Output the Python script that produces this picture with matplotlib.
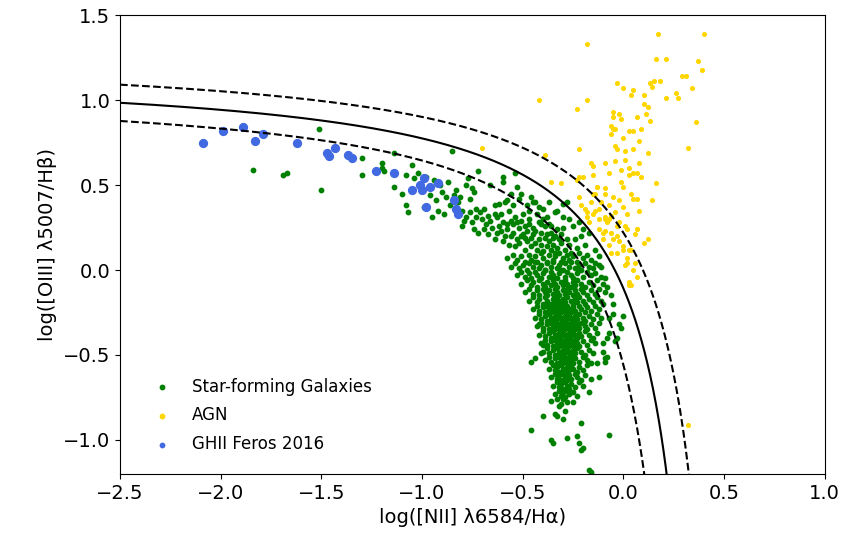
import numpy as np
import matplotlib
matplotlib.use("Agg")
import matplotlib.pyplot as plt

# Kewley et al. (2001) maximum starburst line, with +/-0.1 dex envelope
kew_a, kew_b, kew_c = 0.61, 0.47, 1.19
kew_err = 0.1

# GHII Feros 2016
ghii = [(-2.09, 0.75), (-1.99, 0.82), (-1.89, 0.84), (-1.83, 0.76), (-1.79, 0.80),
        (-1.62, 0.75), (-1.47, 0.69), (-1.46, 0.67), (-1.43, 0.72), (-1.37, 0.68),
        (-1.35, 0.66), (-1.23, 0.58), (-1.14, 0.57), (-1.05, 0.47), (-1.01, 0.50),
        (-1.00, 0.47), (-0.99, 0.54), (-0.96, 0.49), (-0.92, 0.51), (-0.98, 0.37),
        (-0.84, 0.41), (-0.83, 0.36), (-0.82, 0.33)]

# AGN
agn = [(0.17, 1.39), (0.40, 1.39), (-0.18, 1.33), (0.16, 1.24), (0.21, 1.24), (0.37, 1.23),
       (0.39, 1.18), (-0.03, 1.10), (0.00, 1.07), (0.13, 1.10), (0.14, 1.08), (0.15, 1.11),
       (0.18, 1.11), (0.29, 1.14), (0.31, 1.14), (0.34, 1.07), (0.26, 1.04), (0.27, 1.01),
       (0.21, 1.01), (-0.42, 1.00), (-0.18, 1.00), (-0.23, 0.95), (0.04, 1.03), (0.05, 1.06),
       (0.10, 1.03), (0.10, 0.98), (0.12, 0.96), (-0.05, 0.93), (-0.02, 0.92), (-0.05, 0.90),
       (-0.01, 0.89), (0.07, 0.90), (0.11, 0.92), (0.13, 0.88), (0.36, 0.87), (-0.06, 0.85),
       (-0.05, 0.83), (-0.04, 0.83), (-0.06, 0.80), (0.00, 0.78), (0.03, 0.82), (0.05, 0.82),
       (0.09, 0.83), (0.32, 0.72), (-0.22, 0.71), (-0.04, 0.73), (-0.03, 0.71), (0.05, 0.71),
       (0.12, 0.69), (-0.39, 0.68), (-0.70, 0.72), (-0.16, 0.63), (-0.15, 0.61), (-0.09, 0.63),
       (-0.04, 0.64), (0.01, 0.65), (-0.01, 0.59), (0.03, 0.60), (0.03, 0.56), (0.05, 0.57),
       (0.08, 0.63), (0.07, 0.57), (0.09, 0.55), (-0.15, 0.56), (-0.20, 0.55), (-0.36, 0.52),
       (-0.31, 0.51), (-0.23, 0.53), (0.16, 0.51), (-0.13, 0.49), (-0.14, 0.45), (0.00, 0.49),
       (-0.09, 0.48), (-0.09, 0.45), (-0.05, 0.43), (-0.02, 0.41), (0.00, 0.37), (0.04, 0.45),
       (0.05, 0.42), (0.07, 0.42), (0.14, 0.41), (-0.22, 0.43), (-0.21, 0.38), (-0.19, 0.36),
       (-0.18, 0.34), (-0.15, 0.33), (-0.14, 0.35), (-0.12, 0.36), (-0.18, 0.31), (-0.17, 0.28),
       (-0.12, 0.30), (-0.12, 0.24), (-0.09, 0.31), (-0.08, 0.28), (-0.07, 0.30), (-0.10, 0.22),
       (-0.09, 0.23), (-0.06, 0.22), (-0.10, 0.18), (-0.07, 0.15), (-0.05, 0.18), (-0.03, 0.20),
       (-0.02, 0.28), (0.01, 0.26), (0.02, 0.24), (0.07, 0.24), (0.00, 0.14), (-0.02, 0.17),
       (-0.06, 0.10), (0.00, 0.12), (0.02, 0.07), (0.10, 0.16), (0.04, 0.12), (0.06, 0.04),
       (0.07, -0.04), (0.01, 0.03), (-0.03, 0.10), (0.02, 0.04), (0.05, 0.00), (0.04, -0.09),
       (0.03, -0.07), (0.03, -0.09), (0.07, 0.24), (0.08, 0.35), (0.12, 0.18), (0.06, 0.21),
       (0.03, 0.12), (-0.03, 0.26), (-0.06, 0.32), (-0.09, 0.30), (-0.15, 0.45), (-0.13, 0.49),
       (-0.22, 0.55), (-0.11, 0.40), (-0.07, 0.38), (-0.04, 0.34), (0.02, 0.33), (-0.16, 0.40),
       (-0.01, 0.52), (-0.07, 0.57), (0.01, 0.70), (0.08, 0.76), (0.32, -0.91)]

# Star-forming galaxies
sf = [
    # sparse upper branch
    (-1.84, 0.59), (-1.69, 0.56), (-1.67, 0.57), (-1.51, 0.83), (-1.50, 0.47), (-1.30, 0.66),
    (-1.30, 0.56), (-1.20, 0.63), (-1.20, 0.60), (-1.19, 0.58), (-1.14, 0.69), (-1.14, 0.49),
    (-1.08, 0.56), (-1.05, 0.62), (-1.04, 0.54), (-0.85, 0.70), (-1.08, 0.38), (-1.07, 0.34),
    (-0.72, 0.58), (-1.02, 0.57), (-0.98, 0.55), (-0.96, 0.44), (-0.94, 0.53), (-0.93, 0.41),
    (-0.91, 0.50), (-0.90, 0.46), (-0.88, 0.43), (-0.87, 0.52), (-0.86, 0.38), (-0.84, 0.44),
    (-0.83, 0.47), (-0.82, 0.40), (-0.81, 0.43), (-0.80, 0.35), (-0.78, 0.50), (-0.77, 0.54),
    (-0.76, 0.42), (-0.75, 0.48), (-0.74, 0.46), (-0.73, 0.36), (-1.10, 0.45), (-0.99, 0.37),
    (-0.95, 0.31), (-0.92, 0.35), (-0.89, 0.33), (-0.66, 0.50), (-0.60, 0.55), (-0.60, 0.52),
    (-0.54, 0.57), (-0.53, 0.49), (-0.51, 0.45), (-0.56, 0.45), (-0.59, 0.40), (-0.64, 0.38),
    (-0.62, 0.39), (-0.58, 0.41), (-0.45, 0.40), (-0.42, 0.37), (-0.34, 0.34), (-0.30, 0.39),
    # upper band
    (-0.80, 0.26), (-0.78, 0.31), (-0.76, 0.34), (-0.74, 0.24), (-0.72, 0.22), (-0.71, 0.34),
    (-0.70, 0.30), (-0.69, 0.36), (-0.68, 0.27), (-0.67, 0.32), (-0.66, 0.29), (-0.65, 0.25),
    (-0.64, 0.33), (-0.63, 0.31), (-0.62, 0.26), (-0.61, 0.23), (-0.60, 0.28), (-0.59, 0.20),
    (-0.58, 0.27), (-0.57, 0.35), (-0.56, 0.29), (-0.55, 0.22), (-0.55, 0.27), (-0.54, 0.31),
    (-0.53, 0.18), (-0.52, 0.25), (-0.51, 0.29), (-0.50, 0.33), (-0.50, 0.21), (-0.49, 0.26),
    (-0.48, 0.23), (-0.47, 0.35), (-0.47, 0.30), (-0.46, 0.19), (-0.45, 0.25), (-0.44, 0.40),
    (-0.43, 0.33), (-0.42, 0.28), (-0.41, 0.22), (-0.40, 0.30), (-0.39, 0.26), (-0.38, 0.31),
    (-0.37, 0.27), (-0.36, 0.22), (-0.35, 0.19), (-0.33, 0.24), (-0.32, 0.18), (-0.30, 0.25),
    (-0.64, 0.18), (-0.60, 0.17), (-0.57, 0.15), (-0.56, 0.20), (-0.54, 0.14), (-0.52, 0.16),
    (-0.51, 0.20), (-0.49, 0.12), (-0.48, 0.17), (-0.46, 0.14), (-0.45, 0.21), (-0.44, 0.16),
    (-0.43, 0.12), (-0.42, 0.18), (-0.41, 0.15), (-0.40, 0.11), (-0.39, 0.19), (-0.38, 0.14),
    (-0.37, 0.17), (-0.36, 0.12), (-0.35, 0.15), (-0.34, 0.10), (-0.33, 0.13), (-0.31, 0.16),
    (-0.29, 0.12), (-0.27, 0.15), (-0.26, 0.10), (-0.24, 0.18), (-0.23, 0.13), (-0.21, 0.20),
    (-0.19, 0.15), (-0.17, 0.22), (-0.55, 0.38), (-0.52, 0.42), (-0.48, 0.38), (-0.46, 0.43),
    (-0.40, 0.36), (-0.37, 0.40), (-0.33, 0.35), (-0.30, 0.31), (-0.27, 0.30), (-0.25, 0.26),
    (-0.22, 0.28), (-0.20, 0.24), (-0.28, 0.40),
    (-0.79, 0.29), (-0.75, 0.28), (-0.73, 0.31), (-0.69, 0.24), (-0.67, 0.21), (-0.63, 0.22),
    (-0.61, 0.33), (-0.58, 0.24), (-0.53, 0.28), (-0.49, 0.19), (-0.47, 0.27), (-0.44, 0.23),
    (-0.41, 0.27), (-0.38, 0.21), (-0.36, 0.26), (-0.34, 0.20), (-0.31, 0.21), (-0.28, 0.18),
    # core
    (-0.58, 0.07), (-0.55, 0.09), (-0.53, 0.06), (-0.51, 0.08), (-0.49, 0.05), (-0.47, 0.09),
    (-0.46, 0.06), (-0.44, 0.08), (-0.43, 0.05), (-0.41, 0.10), (-0.40, 0.07), (-0.38, 0.05),
    (-0.37, 0.09), (-0.35, 0.06), (-0.34, 0.08), (-0.32, 0.10), (-0.31, 0.05), (-0.30, 0.07),
    (-0.28, 0.09), (-0.27, 0.06), (-0.25, 0.08), (-0.23, 0.05), (-0.22, 0.10), (-0.20, 0.07),
    (-0.18, 0.09), (-0.16, 0.06), (-0.14, 0.04),
    (-0.56, 0.02), (-0.54, 0.04), (-0.52, 0.01), (-0.50, 0.03), (-0.48, 0.00), (-0.47, 0.04),
    (-0.45, 0.02), (-0.44, 0.05), (-0.42, 0.01), (-0.41, 0.03), (-0.39, 0.00), (-0.38, 0.04),
    (-0.36, 0.02), (-0.35, 0.05), (-0.33, 0.01), (-0.32, 0.03), (-0.30, 0.00), (-0.29, 0.04),
    (-0.27, 0.02), (-0.26, 0.05), (-0.24, 0.01), (-0.22, 0.03), (-0.21, 0.00), (-0.19, 0.04),
    (-0.17, 0.02), (-0.15, 0.01), (-0.12, 0.03),
    (-0.53, -0.03), (-0.51, -0.01), (-0.49, -0.04), (-0.47, -0.02), (-0.46, -0.05), (-0.44, -0.01),
    (-0.43, -0.03), (-0.41, -0.05), (-0.40, -0.02), (-0.39, 0.00), (-0.37, -0.04), (-0.36, -0.01),
    (-0.35, -0.03), (-0.33, -0.05), (-0.32, -0.02), (-0.31, 0.00), (-0.29, -0.04), (-0.28, -0.01),
    (-0.26, -0.03), (-0.25, -0.05), (-0.23, -0.02), (-0.22, 0.00), (-0.20, -0.04), (-0.18, -0.01),
    (-0.16, -0.03), (-0.14, -0.02), (-0.11, -0.04),
    (-0.51, -0.08), (-0.48, -0.06), (-0.46, -0.09), (-0.45, -0.07), (-0.43, -0.10), (-0.42, -0.06),
    (-0.40, -0.08), (-0.39, -0.10), (-0.38, -0.07), (-0.36, -0.09), (-0.35, -0.06), (-0.34, -0.08),
    (-0.33, -0.10), (-0.31, -0.07), (-0.30, -0.09), (-0.29, -0.06), (-0.28, -0.08), (-0.26, -0.10),
    (-0.25, -0.07), (-0.24, -0.09), (-0.23, -0.06), (-0.21, -0.08), (-0.19, -0.10), (-0.17, -0.07),
    (-0.15, -0.09), (-0.13, -0.06), (-0.10, -0.08),
    (-0.49, -0.13), (-0.47, -0.11), (-0.45, -0.14), (-0.43, -0.12), (-0.42, -0.15), (-0.40, -0.11),
    (-0.39, -0.13), (-0.38, -0.15), (-0.37, -0.12), (-0.35, -0.14), (-0.34, -0.11), (-0.33, -0.13),
    (-0.32, -0.15), (-0.30, -0.12), (-0.29, -0.14), (-0.28, -0.11), (-0.27, -0.13), (-0.25, -0.15),
    (-0.24, -0.12), (-0.23, -0.14), (-0.21, -0.11), (-0.20, -0.13), (-0.18, -0.15), (-0.16, -0.12),
    (-0.14, -0.14), (-0.12, -0.11), (-0.09, -0.13),
    (-0.47, -0.18), (-0.45, -0.16), (-0.43, -0.19), (-0.42, -0.17), (-0.40, -0.20), (-0.39, -0.16),
    (-0.38, -0.18), (-0.36, -0.20), (-0.35, -0.17), (-0.34, -0.19), (-0.33, -0.16), (-0.32, -0.18),
    (-0.31, -0.20), (-0.30, -0.17), (-0.29, -0.19), (-0.28, -0.16), (-0.26, -0.18), (-0.25, -0.20),
    (-0.24, -0.17), (-0.23, -0.19), (-0.22, -0.16), (-0.20, -0.18), (-0.19, -0.20), (-0.17, -0.17),
    (-0.15, -0.19), (-0.13, -0.16), (-0.11, -0.18),
    (-0.45, -0.23), (-0.43, -0.21), (-0.42, -0.24), (-0.40, -0.22), (-0.39, -0.25), (-0.38, -0.21),
    (-0.37, -0.23), (-0.36, -0.25), (-0.35, -0.22), (-0.34, -0.24), (-0.33, -0.21), (-0.32, -0.23),
    (-0.31, -0.25), (-0.30, -0.22), (-0.29, -0.24), (-0.28, -0.21), (-0.27, -0.23), (-0.26, -0.25),
    (-0.25, -0.22), (-0.24, -0.24), (-0.22, -0.21), (-0.21, -0.23), (-0.19, -0.25), (-0.18, -0.22),
    (-0.16, -0.24), (-0.14, -0.21), (-0.12, -0.23),
    (-0.44, -0.28), (-0.42, -0.26), (-0.41, -0.29), (-0.39, -0.27), (-0.38, -0.30), (-0.37, -0.26),
    (-0.36, -0.28), (-0.35, -0.30), (-0.34, -0.27), (-0.33, -0.29), (-0.32, -0.26), (-0.31, -0.28),
    (-0.30, -0.30), (-0.29, -0.27), (-0.28, -0.29), (-0.27, -0.26), (-0.26, -0.28), (-0.25, -0.30),
    (-0.24, -0.27), (-0.23, -0.29), (-0.22, -0.26), (-0.20, -0.28), (-0.19, -0.30), (-0.17, -0.27),
    (-0.15, -0.29), (-0.13, -0.26), (-0.11, -0.28),
    (-0.43, -0.33), (-0.41, -0.31), (-0.40, -0.34), (-0.38, -0.32), (-0.37, -0.35), (-0.36, -0.31),
    (-0.35, -0.33), (-0.34, -0.35), (-0.33, -0.32), (-0.32, -0.34), (-0.31, -0.31), (-0.30, -0.33),
    (-0.29, -0.35), (-0.28, -0.32), (-0.27, -0.34), (-0.26, -0.31), (-0.25, -0.33), (-0.24, -0.35),
    (-0.23, -0.32), (-0.22, -0.34), (-0.21, -0.31), (-0.19, -0.33), (-0.18, -0.35), (-0.16, -0.32),
    (-0.14, -0.34), (-0.12, -0.31),
    (-0.42, -0.38), (-0.40, -0.36), (-0.39, -0.39), (-0.37, -0.37), (-0.36, -0.40), (-0.35, -0.36),
    (-0.34, -0.38), (-0.33, -0.40), (-0.32, -0.37), (-0.31, -0.39), (-0.30, -0.36), (-0.29, -0.38),
    (-0.28, -0.40), (-0.27, -0.37), (-0.26, -0.39), (-0.25, -0.36), (-0.24, -0.38), (-0.23, -0.40),
    (-0.22, -0.37), (-0.21, -0.39), (-0.19, -0.36), (-0.17, -0.38), (-0.15, -0.40), (-0.13, -0.37),
    (-0.41, -0.43), (-0.39, -0.41), (-0.38, -0.44), (-0.36, -0.42), (-0.35, -0.45), (-0.34, -0.41),
    (-0.33, -0.43), (-0.32, -0.45), (-0.31, -0.42), (-0.30, -0.44), (-0.29, -0.41), (-0.28, -0.43),
    (-0.27, -0.45), (-0.26, -0.42), (-0.25, -0.44), (-0.24, -0.41), (-0.23, -0.43), (-0.22, -0.45),
    (-0.20, -0.42), (-0.18, -0.44), (-0.16, -0.41), (-0.14, -0.43),
    (-0.40, -0.48), (-0.38, -0.46), (-0.37, -0.49), (-0.35, -0.47), (-0.34, -0.50), (-0.33, -0.46),
    (-0.32, -0.48), (-0.31, -0.50), (-0.30, -0.47), (-0.29, -0.49), (-0.28, -0.46), (-0.27, -0.48),
    (-0.26, -0.50), (-0.25, -0.47), (-0.24, -0.49), (-0.23, -0.46), (-0.21, -0.48), (-0.19, -0.50),
    (-0.17, -0.47), (-0.15, -0.49),
    (-0.39, -0.53), (-0.37, -0.51), (-0.36, -0.54), (-0.34, -0.52), (-0.33, -0.55), (-0.32, -0.51),
    (-0.31, -0.53), (-0.30, -0.55), (-0.29, -0.52), (-0.28, -0.54), (-0.27, -0.51), (-0.26, -0.53),
    (-0.25, -0.55), (-0.24, -0.52), (-0.22, -0.54), (-0.20, -0.51), (-0.18, -0.53), (-0.16, -0.55),
    (-0.37, -0.58), (-0.35, -0.56), (-0.34, -0.59), (-0.33, -0.57), (-0.32, -0.60), (-0.31, -0.56),
    (-0.30, -0.58), (-0.29, -0.60), (-0.28, -0.57), (-0.27, -0.59), (-0.26, -0.56), (-0.25, -0.58),
    (-0.23, -0.60), (-0.22, -0.57), (-0.20, -0.59), (-0.18, -0.56),
    (-0.36, -0.63), (-0.34, -0.61), (-0.33, -0.64), (-0.32, -0.62), (-0.31, -0.65), (-0.30, -0.61),
    (-0.29, -0.63), (-0.28, -0.65), (-0.27, -0.62), (-0.26, -0.64), (-0.24, -0.61), (-0.23, -0.63),
    (-0.21, -0.65), (-0.19, -0.62),
    (-0.35, -0.68), (-0.33, -0.66), (-0.32, -0.69), (-0.31, -0.67), (-0.30, -0.70), (-0.29, -0.66),
    (-0.28, -0.68), (-0.27, -0.70), (-0.26, -0.67), (-0.24, -0.69), (-0.22, -0.66), (-0.20, -0.68),
    (-0.34, -0.73), (-0.32, -0.71), (-0.31, -0.74), (-0.30, -0.72), (-0.29, -0.75), (-0.28, -0.71),
    (-0.27, -0.73), (-0.25, -0.72), (-0.23, -0.74),
    (-0.36, -0.77), (-0.33, -0.76), (-0.31, -0.79), (-0.30, -0.76), (-0.28, -0.78), (-0.25, -0.78),
    # outliers
    (-0.46, -0.94), (-0.40, -0.86), (-0.34, -0.85), (-0.33, -0.86), (-0.32, -0.80), (-0.30, -0.88),
    (-0.29, -0.83), (-0.36, -1.00), (-0.35, -1.02), (-0.28, -0.99), (-0.23, -0.98), (-0.22, -1.02),
    (-0.21, -1.06), (-0.20, -1.05), (-0.21, -0.90), (-0.07, -0.97), (-0.17, -1.18), (-0.16, -1.19),
    (-0.46, -0.54), (-0.44, -0.52), (-0.41, -0.49), (-0.40, -0.44), (-0.42, -0.32), (-0.17, -0.72),
    (-0.12, -0.63), (-0.16, -0.64), (-0.13, -0.55), (-0.09, -0.54), (-0.08, -0.51), (-0.10, -0.43),
    (-0.08, -0.40), (-0.07, -0.37), (-0.05, -0.26), (-0.02, -0.32), (-0.01, -0.34), (-0.03, -0.40),
    (0.00, -0.27), (-0.05, -0.20), (-0.04, -0.42), (-0.10, -0.48), (-0.09, -0.52), (-0.06, -0.15),
    (-0.08, -0.10), (-0.09, -0.05), (-0.11, 0.02), (-0.12, 0.08), (-0.14, 0.12), (-0.10, -0.20),
    (-0.07, -0.28),
]

sf_x, sf_y = zip(*sf)
agn_x, agn_y = zip(*agn)
ghii_x, ghii_y = zip(*ghii)


def kewley(x, shift=0.0):
    return kew_a / (x - kew_b - shift) + kew_c + shift


fig = plt.figure(figsize=(8.45, 5.44), dpi=100)
ax = fig.add_axes([0.142, 0.129, 0.834, 0.843])

ax.scatter(sf_x, sf_y, s=10, color='green', label='Star-forming Galaxies', zorder=2)
ax.scatter(agn_x, agn_y, s=7, color='gold', label='AGN', zorder=2)
ax.scatter(ghii_x, ghii_y, s=32, color='royalblue', label='GHII Feros 2016', zorder=3)

xs = np.linspace(-2.5, kew_b - 0.02, 800)
ax.plot(xs, kewley(xs), color='black', lw=1.5, zorder=4)
xs = np.linspace(-2.5, kew_b + kew_err - 0.02, 800)
ax.plot(xs, kewley(xs, kew_err), 'k--', lw=1.5, zorder=4)
xs = np.linspace(-2.5, kew_b - kew_err - 0.02, 800)
ax.plot(xs, kewley(xs, -kew_err), 'k--', lw=1.5, zorder=4)

ax.set_xlim(-2.5, 1.0)
ax.set_ylim(-1.2, 1.5)
ax.set_xlabel('log([NII] λ6584/Hα)', fontsize=14)
ax.set_ylabel('log([OIII] λ5007/Hβ)', fontsize=14)
ax.tick_params(labelsize=14)

leg = ax.legend(loc='lower left', bbox_to_anchor=(0.015, 0.012), frameon=False,
                fontsize=12, labelspacing=0.65)
for h in leg.legend_handles:
    h.set_sizes([10])

fig.savefig('out.png', dpi=100)
